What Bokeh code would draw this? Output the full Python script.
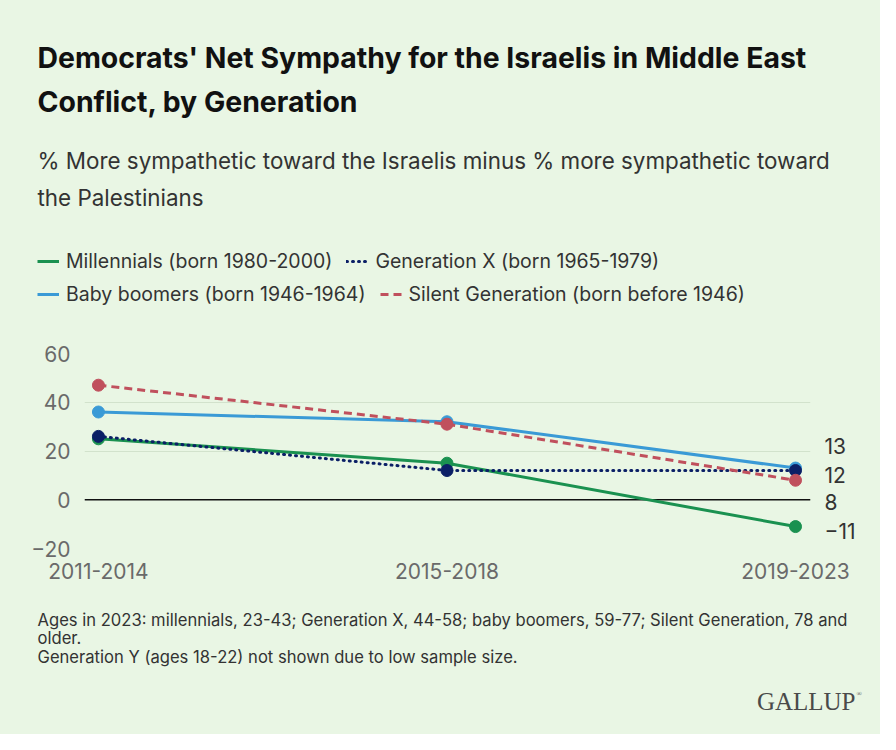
from bokeh.plotting import figure
from bokeh.models import Label, Legend, LegendItem, Span, FixedTicker, LinearAxis, Range1d
from bokeh.layouts import column
from bokeh.embed import file_html
from bokeh.resources import INLINE

# ---- data ----
periods = ["2011-2014", "2015-2018", "2019-2023"]
millennials = [25, 15, -11]
gen_x = [26, 12, 12]
boomers = [36, 32, 13]
silent = [47, 31, 8]
y_ticks = [-20, 0, 20, 40, 60]

title_lines = ["Democrats' Net Sympathy for the Israelis in Middle East",
               "Conflict, by Generation"]
subtitle_lines = ["% More sympathetic toward the Israelis minus % more sympathetic toward",
                  "the Palestinians"]
footer_lines = ["Ages in 2023: millennials, 23-43; Generation X, 44-58; baby boomers, 59-77; Silent Generation, 78 and",
                "older.",
                "Generation Y (ages 18-22) not shown due to low sample size."]

BG = "#e9f6e4"
FONT = "Inter"
W = 880
xs = list(range(len(periods)))

series = [
    ("Millennials (born 1980-2000)", millennials, "#1a9150", None),
    ("Baby boomers (born 1946-1964)", boomers, "#3a9ad6", None),
    ("Generation X (born 1965-1979)", gen_x, "#0b1f66", "1 5"),
    ("Silent Generation (born before 1946)", silent, "#c0505d", "8 5"),
]

def line_kw(col, dash):
    kw = dict(line_color=col, line_width=3)
    if dash:
        kw["line_dash"] = dash
        kw["line_cap"] = "round" if dash == "1 5" else "butt"
    return kw

def blank(h):
    f = figure(width=W, height=h, output_backend="svg", toolbar_location=None,
               x_range=Range1d(0, W), y_range=Range1d(h, 0), frame_align=False,
               min_border_left=0, min_border_right=0, min_border_top=0, min_border_bottom=0)
    f.axis.visible = False
    f.grid.visible = False
    f.background_fill_color = BG
    f.border_fill_color = BG
    f.outline_line_color = None
    f.styles = {"background-color": BG}
    return f

def txt(f, s, x, y, size, color="#333333", style="normal", font=FONT, align="left"):
    f.add_layout(Label(x=x, y=y, text=s, text_font=font, text_font_size=size,
                       text_color=color, text_font_style=style,
                       text_baseline="middle", text_align=align))

# ---- header ----
HH = 341
head = blank(HH)
txt(head, title_lines[0], 37, 57, "28.4px", "#111111", "bold")
txt(head, title_lines[1], 37, 101, "28.4px", "#111111", "bold")
txt(head, subtitle_lines[0], 37, 160, "22.4px")
txt(head, subtitle_lines[1], 37, 197, "22.4px")
legend_r = {}
for name, vals, col, dash in series:
    legend_r[name] = head.line([-20, -10], [-20, -20], **line_kw(col, dash))
rows = [["Millennials (born 1980-2000)", "Generation X (born 1965-1979)"],
        ["Baby boomers (born 1946-1964)", "Silent Generation (born before 1946)"]]
for k, (row, yc) in enumerate(zip(rows, [263, 296])):
    leg = Legend(items=[LegendItem(label=n, renderers=[legend_r[n]]) for n in row],
                 location=(37, HH - yc - 10), orientation="horizontal",
                 glyph_width=22, glyph_height=20, label_height=20, label_standoff=7, spacing=14,
                 padding=0, margin=0, border_line_alpha=0, background_fill_alpha=0,
                 label_text_font=FONT, label_text_font_size="19.5px", label_text_color="#333333")
    head.add_layout(leg)

# ---- main chart ----
p = figure(width=W, height=259, output_backend="svg", toolbar_location=None,
           x_range=(-0.04, 2.043), y_range=(-20, 60), frame_align=False,
           min_border_left=84, min_border_right=70, min_border_top=12, min_border_bottom=52)
p.background_fill_color = BG
p.border_fill_color = BG
p.outline_line_color = None
p.styles = {"background-color": BG}
p.add_layout(Span(location=0, dimension="width", line_color="#111111", line_width=1.6, level="underlay"))
for name, vals, col, dash in series:
    p.line(xs, vals, **line_kw(col, dash))
    p.scatter(xs, vals, size=12, fill_color=col, line_color=col)

p.xaxis.ticker = FixedTicker(ticks=xs)
p.xaxis.major_label_overrides = {i: s for i, s in enumerate(periods)}
p.yaxis.ticker = FixedTicker(ticks=y_ticks)
p.yaxis.major_label_overrides = {t: str(t).replace("-", "\u2212") for t in y_ticks}

# end-value labels as a right axis at dodged positions
ends = [s[1][-1] for s in series]
order = sorted(range(len(ends)), key=lambda i: -ends[i])
gap = 11.6
clusters = [[i] for i in order]
def place(cl):
    m = sum(ends[i] for i in cl) / len(cl) - 1
    n = len(cl)
    return [m + (n - 1) / 2 * gap - k * gap for k in range(n)]
changed = True
while changed:
    changed = False
    for c in range(len(clusters) - 1):
        a, b = place(clusters[c]), place(clusters[c + 1])
        if a[-1] - b[0] < gap:
            clusters[c] = clusters[c] + clusters[c + 1]
            del clusters[c + 1]
            changed = True
            break
end_pos = {}
for cl in clusters:
    for i, yy in zip(cl, place(cl)):
        end_pos[int(round(yy))] = str(ends[i]).replace("-", "\u2212")
rax = LinearAxis(ticker=FixedTicker(ticks=sorted(end_pos)), major_label_overrides=end_pos)
p.add_layout(rax, "right")

for ax in (p.xaxis[0], p.yaxis[0], rax):
    ax.axis_line_color = None
    ax.major_tick_line_color = None
    ax.minor_tick_line_color = None
    ax.major_label_text_font = FONT
    ax.major_label_text_font_size = "21px"
    ax.major_label_text_color = "#6a6a6a"
rax.major_label_text_color = "#333333"
rax.major_label_standoff = 2
p.xaxis.major_label_standoff = 8
p.yaxis.major_label_standoff = 8
p.xgrid.grid_line_color = None
p.ygrid.grid_line_color = "#d2e2cc"
p.ygrid.grid_line_width = 1

# ---- footer ----
FH = 134
foot = blank(FH)
for k, s in enumerate(footer_lines):
    txt(foot, s, 37, 19 + k * 18.5, "16.6px")
txt(foot, "GALLUP", 855, 101, "25px", "#4a4a4a", font="Liberation Serif", align="right")
txt(foot, "\u00ae", 856, 93, "7px", "#4a4a4a", font="Liberation Serif")

layout = column(head, p, foot, spacing=0, styles={"background-color": BG})
open("out.html", "w").write(file_html(layout, INLINE))
